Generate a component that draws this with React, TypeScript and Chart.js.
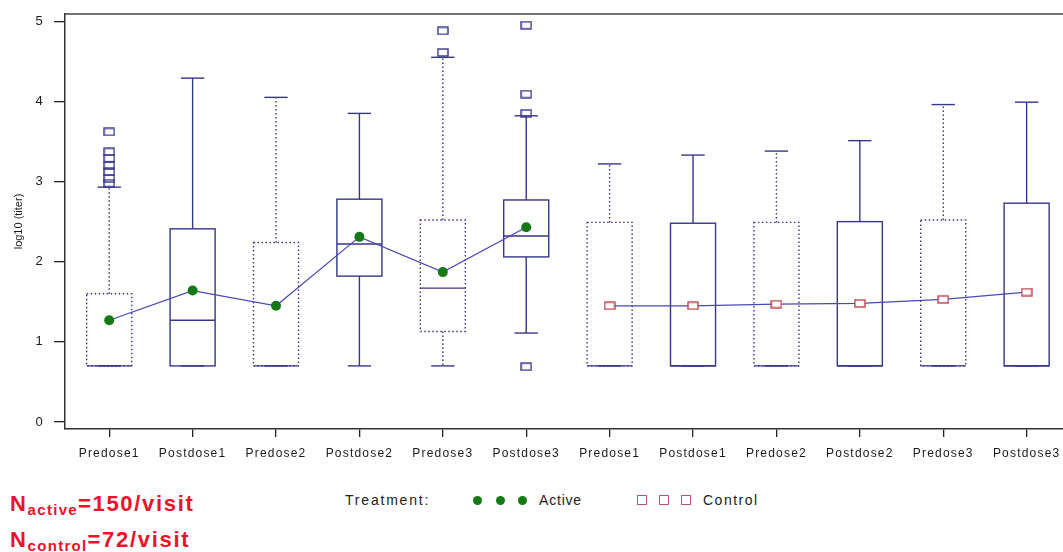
import React, { useEffect, useRef } from 'react';
import { Chart, registerables } from 'chart.js';

Chart.register(...registerables);

// ---------- data ----------
const categories = [
  'Predose1', 'Postdose1', 'Predose2', 'Postdose2', 'Predose3', 'Postdose3',
  'Predose1', 'Postdose1', 'Predose2', 'Postdose2', 'Predose3', 'Postdose3',
];
const q1Values = [0.7, 0.7, 0.7, 1.82, 1.13, 2.06, 0.7, 0.7, 0.7, 0.7, 0.7, 0.7];
const medianValues = [0.7, 1.27, 0.7, 2.22, 1.67, 2.32, 0.7, 0.7, 0.7, 0.7, 0.7, 0.7];
const q3Values = [1.6, 2.41, 2.24, 2.78, 2.52, 2.77, 2.49, 2.48, 2.49, 2.5, 2.52, 2.73];
const whiskerLowValues = [0.7, 0.7, 0.7, 0.7, 0.7, 1.11, 0.7, 0.7, 0.7, 0.7, 0.7, 0.7];
const whiskerHighValues = [2.93, 4.29, 4.05, 3.85, 4.55, 3.82, 3.22, 3.33, 3.38, 3.51, 3.96, 3.99];
const activeMeans = [1.27, 1.64, 1.45, 2.31, 1.87, 2.43];
const controlMeans = [1.45, 1.45, 1.47, 1.48, 1.53, 1.62];
const activeIndex = [0, 1, 2, 3, 4, 5];
const controlIndex = [6, 7, 8, 9, 10, 11];
const outlierIndex = [0, 0, 0, 0, 0, 0, 0, 4, 4, 5, 5, 5, 5];
const outlierValues = [3.62, 3.37, 3.29, 3.2, 3.12, 3.04, 2.98, 4.88, 4.61, 4.95, 4.09, 3.85, 0.69];
const yTicks = [0, 1, 2, 3, 4, 5];

// ---------- style ----------
const BOX_COLOR = '#36368a';
const MEAN_LINE = '#4848b4';
const GREEN = '#157a15';
const CONTROL_RED = '#c0454f';
const LEGEND_SQ = '#b45a6c';
const BOX_HALF = 0.27;
const CAP_HALF = 0.14;
const FONT = '"Liberation Sans", Arial, sans-serif';

function makeRect(w: number, h: number, color: string, fill: string | null) {
  const c = document.createElement('canvas');
  c.width = w + 2;
  c.height = h + 2;
  const g = c.getContext('2d')!;
  if (fill) {
    g.fillStyle = fill;
    g.fillRect(1, 1, w, h);
  }
  g.strokeStyle = color;
  g.lineWidth = 1.4;
  g.strokeRect(1, 1, w, h);
  return c;
}

const boxPlugin = {
  id: 'boxes',
  beforeDatasetsDraw(chart: any) {
    const { ctx, scales } = chart;
    const x = scales.x;
    const y = scales.y;
    const py = (v: number) => y.getPixelForValue(v);
    const line = (x1: number, y1: number, x2: number, y2: number) => {
      ctx.beginPath();
      ctx.moveTo(x1, y1);
      ctx.lineTo(x2, y2);
      ctx.stroke();
    };
    ctx.save();
    ctx.strokeStyle = BOX_COLOR;
    ctx.lineWidth = 1.4;
    categories.forEach((c, i) => {
      const dotted = c.startsWith('Predose');
      const xl = x.getPixelForValue(i - BOX_HALF);
      const xr = x.getPixelForValue(i + BOX_HALF);
      const xc = x.getPixelForValue(i);
      const cl = x.getPixelForValue(i - CAP_HALF);
      const cr = x.getPixelForValue(i + CAP_HALF);
      ctx.setLineDash(dotted ? [1.5, 2.5] : []);
      ctx.strokeRect(xl, py(q3Values[i]), xr - xl, py(q1Values[i]) - py(q3Values[i]));
      line(xc, py(q3Values[i]), xc, py(whiskerHighValues[i]));
      line(xc, py(q1Values[i]), xc, py(whiskerLowValues[i]));
      ctx.setLineDash([]);
      line(cl, py(whiskerHighValues[i]), cr, py(whiskerHighValues[i]));
      line(cl, py(whiskerLowValues[i]), cr, py(whiskerLowValues[i]));
      line(xl, py(medianValues[i]), xr, py(medianValues[i]));
    });
    ctx.restore();
  },
};

const framePlugin = {
  id: 'frame',
  beforeDraw(chart: any) {
    chart.ctx.letterSpacing = '1.2px';
  },
  afterDraw(chart: any) {
    const { ctx, chartArea } = chart;
    ctx.save();
    ctx.strokeStyle = '#444';
    ctx.lineWidth = 1.5;
    ctx.beginPath();
    ctx.moveTo(chartArea.left, chartArea.top);
    ctx.lineTo(chartArea.right, chartArea.top);
    ctx.stroke();
    ctx.restore();
    chart.ctx.letterSpacing = '0px';
  },
};

function ChartView() {
  const ref = useRef<HTMLCanvasElement | null>(null);
  useEffect(() => {
    if (!ref.current) return;
    const outlierMarker = makeRect(10, 7, BOX_COLOR, null);
    const controlMarker = makeRect(10, 7, CONTROL_RED, '#ffffff');
    const chart = new Chart(ref.current, {
      type: 'scatter',
      data: {
        datasets: [
          {
            label: 'Outliers',
            data: outlierIndex.map((g, k) => ({ x: g, y: outlierValues[k] })),
            pointStyle: outlierMarker as any,
            showLine: false,
          },
          {
            label: 'Active',
            data: activeIndex.map((g, k) => ({ x: g, y: activeMeans[k] })),
            showLine: true,
            borderColor: MEAN_LINE,
            borderWidth: 1.2,
            pointStyle: 'circle',
            pointRadius: 5,
            pointBackgroundColor: GREEN,
            pointBorderColor: GREEN,
            pointBorderWidth: 0,
          },
          {
            label: 'Control',
            data: controlIndex.map((g, k) => ({ x: g, y: controlMeans[k] })),
            showLine: true,
            borderColor: MEAN_LINE,
            borderWidth: 1.2,
            pointStyle: controlMarker as any,
          },
        ],
      },
      options: {
        responsive: false,
        animation: false,
        events: [],
        layout: { autoPadding: false, padding: { top: 14, left: 0, right: 0, bottom: 0 } },
        plugins: { legend: { display: false }, tooltip: { enabled: false } },
        scales: {
          x: {
            type: 'linear',
            min: -0.53,
            max: 11.436,
            afterBuildTicks: (axis: any) => {
              axis.ticks = categories.map((_, i) => ({ value: i }));
            },
            afterFit: (scale: any) => {
              scale.height = 41;
              scale.paddingLeft = 0;
              scale.paddingRight = 0;
            },
            ticks: {
              autoSkip: false,
              maxRotation: 0,
              minRotation: 0,
              padding: 9,
              color: '#1a1a1a',
              font: { family: FONT, size: 12 },
              callback: (_v: any, i: number) => categories[i],
            },
            grid: {
              display: true,
              drawOnChartArea: false,
              drawTicks: true,
              tickLength: 8,
              color: '#222',
              lineWidth: 1.3,
            },
            border: { display: true, color: '#333', width: 1.5 },
          },
          y: {
            type: 'linear',
            min: -0.087,
            max: 5.09,
            afterBuildTicks: (axis: any) => {
              axis.ticks = yTicks.map((v) => ({ value: v }));
            },
            afterFit: (scale: any) => {
              scale.width = 65;
              scale.paddingTop = 0;
              scale.paddingBottom = 0;
              if (!scale.__titlePatched) {
                const orig = scale.drawTitle;
                scale.drawTitle = function () {
                  const c = this.ctx;
                  const prev = c.letterSpacing;
                  c.letterSpacing = '0px';
                  orig.call(this);
                  c.letterSpacing = prev;
                };
                scale.__titlePatched = true;
              }
            },
            ticks: {
              padding: 10,
              color: '#1a1a1a',
              font: { family: FONT, size: 13 },
              callback: (v: any) => String(v),
            },
            grid: {
              display: true,
              drawOnChartArea: false,
              drawTicks: true,
              tickLength: 11,
              color: '#222',
              lineWidth: 1.3,
            },
            border: { display: true, color: '#333', width: 1.5 },
            title: {
              display: true,
              text: 'log10 (titer)',
              color: '#1a1a1a',
              font: { family: FONT, size: 11 },
              padding: { top: 12, bottom: 0 },
            },
          },
        },
      },
      plugins: [boxPlugin, framePlugin],
    } as any);
    return () => chart.destroy();
  }, []);
  return <canvas ref={ref} width={1063} height={470} style={{ position: 'absolute', left: 0, top: 0 }} />;
}

const red = '#f0102a';

export default function App() {
  const dot = (cx: number) => (
    <span
      key={'d' + cx}
      style={{ position: 'absolute', left: cx - 4.5, top: 495.5, width: 9, height: 9, borderRadius: '50%', background: GREEN }}
    />
  );
  const sq = (cx: number) => (
    <span
      key={'s' + cx}
      style={{ position: 'absolute', left: cx - 5, top: 495, width: 8, height: 8, border: `1.4px solid ${LEGEND_SQ}`, background: '#fff' }}
    />
  );
  const legendText: React.CSSProperties = {
    position: 'absolute',
    top: 492,
    lineHeight: '16px',
    fontSize: 14,
    letterSpacing: 0.8,
    fontFamily: FONT,
    color: '#222',
    whiteSpace: 'nowrap',
  };
  const nLine: React.CSSProperties = {
    position: 'absolute',
    left: 10,
    lineHeight: '22px',
    fontSize: 22,
    fontWeight: 700,
    letterSpacing: 1.7,
    fontFamily: FONT,
    color: red,
    whiteSpace: 'nowrap',
  };
  const subStyle: React.CSSProperties = { fontSize: 15, letterSpacing: 1.3, position: 'relative', top: 4 };
  return (
    <div style={{ position: 'fixed', left: 0, top: 0, width: 1063, height: 552, overflow: 'hidden', background: '#fff' }}>
      <ChartView />
      <div style={{ ...nLine, top: 493 }}>
        N<span style={subStyle}>active</span>=150/visit
      </div>
      <div style={{ ...nLine, top: 529 }}>
        N<span style={subStyle}>control</span>=72/visit
      </div>
      <span style={{ ...legendText, left: 345, letterSpacing: 1.8 }}>Treatment:</span>
      {[477, 500, 522].map(dot)}
      <span style={{ ...legendText, left: 539 }}>Active</span>
      {[642, 664, 686].map(sq)}
      <span style={{ ...legendText, left: 703, letterSpacing: 1.5 }}>Control</span>
    </div>
  );
}
